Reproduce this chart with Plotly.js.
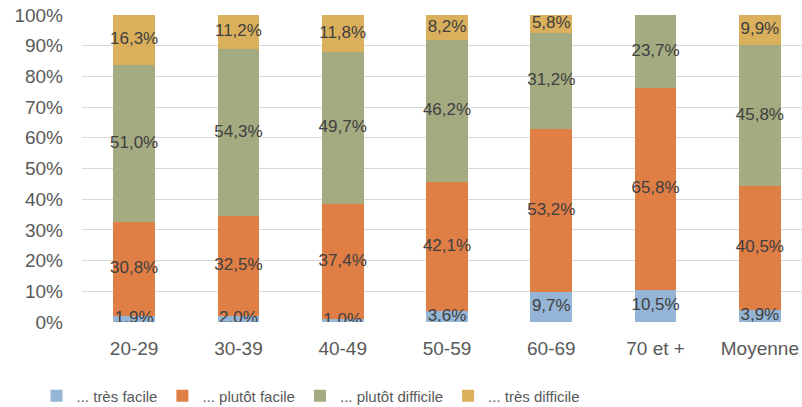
<!DOCTYPE html>
<html><head><meta charset="utf-8">
<script src="https://cdn.plot.ly/plotly-3.0.1.min.js"></script>
<style>html,body{margin:0;padding:0;overflow:hidden;background:#fff;}#chart{width:812px;height:407px;}</style>
</head><body><div id="chart"></div>
<script>
const categories = ["20-29","30-39","40-49","50-59","60-69","70 et +","Moyenne"];
const seriesNames = ["... très facile","... plutôt facile","... plutôt difficile","... très difficile"];
const tresFacile = [1.9, 2.0, 1.0, 3.6, 9.7, 10.5, 3.9];
const plutotFacile = [30.8, 32.5, 37.4, 42.1, 53.2, 65.8, 40.5];
const plutotDifficile = [51.0, 54.3, 49.7, 46.2, 31.2, 23.7, 45.8];
const tresDifficile = [16.3, 11.2, 11.8, 8.2, 5.8, 0, 9.9];
const colors = ["#94B5D6","#DF7E45","#A4AB81","#DAB05C"];

const series = [tresFacile, plutotFacile, plutotDifficile, tresDifficile];
const fmt = v => v.toFixed(1).replace(".", ",") + "%";
const traces = [];
series.forEach((vals, i) => {
  traces.push({type:"bar", name: seriesNames[i], x: categories, y: vals,
    marker:{color: colors[i], line:{width:0}}, hoverinfo:"skip"});
});
// data labels centred in each segment
const cum = categories.map(() => 0);
series.forEach((vals) => {
  const ys = [], txt = [], xs = [];
  vals.forEach((v, j) => {
    if (v > 0) { xs.push(categories[j]); ys.push(cum[j] + v/2); txt.push(fmt(v)); }
    cum[j] += v;
  });
  traces.push({type:"scatter", mode:"text", x: xs, y: ys, text: txt, showlegend:false,
    textfont:{family:"Liberation Sans, Arial, sans-serif", size:17, color:"#404040"}, hoverinfo:"skip"});
});

const layout = {
  width: 812, height: 407,
  margin:{l:82, r:0, t:15, b:85, autoexpand:false},
  barmode:"stack", bargap:0.6,
  paper_bgcolor:"#fff", plot_bgcolor:"#fff",
  font:{family:"Liberation Sans, Arial, sans-serif", color:"#595959", size:19},
  xaxis:{type:"category", showgrid:false, zeroline:false, showline:false, ticks:"",
    tickfont:{size:19, color:"#595959"}, ticklabelstandoff:13, automargin:false},
  yaxis:{range:[0,100], dtick:10, ticksuffix:"%", showgrid:true, gridcolor:"#D9D9D9", gridwidth:1,
    zeroline:false, showline:false, ticks:"", tickfont:{size:19, color:"#595959"}, ticklabelstandoff:18, automargin:false},
  showlegend:true,
  legend:{orientation:"h", x:0.045, xref:"container", xanchor:"left", y:0.027, yref:"container", yanchor:"middle",
    font:{family:"Liberation Sans, Arial, sans-serif", size:15, color:"#595959"},
    itemwidth:30, traceorder:"normal"}
};
Plotly.newPlot("chart", traces, layout, {displayModeBar:false, staticPlot:true});
</script></body></html>
